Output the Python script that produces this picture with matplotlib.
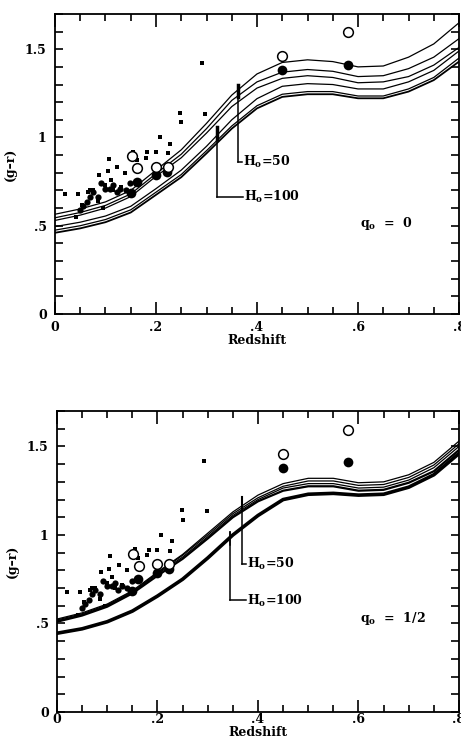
import numpy as np
import matplotlib
matplotlib.use("Agg")
import matplotlib.pyplot as plt
from matplotlib.ticker import MultipleLocator, FixedLocator

plt.rcParams['font.family'] = ['DejaVu Serif']
plt.rcParams['font.weight'] = 'bold'
plt.rcParams['mathtext.fontset'] = 'dejavuserif'

z = [0.0, 0.05, 0.1, 0.15, 0.2, 0.25, 0.3, 0.35, 0.4, 0.45,
     0.5, 0.55, 0.6, 0.65, 0.7, 0.75, 0.8]

# q0 = 0 models (top panel)
top_c1 = [0.565, 0.595, 0.635, 0.70, 0.815, 0.93, 1.08, 1.24, 1.36, 1.425,
          1.44, 1.43, 1.40, 1.405, 1.455, 1.53, 1.65]
top_c2 = [0.545, 0.575, 0.615, 0.68, 0.795, 0.905, 1.05, 1.21, 1.315, 1.37,
          1.385, 1.375, 1.345, 1.35, 1.39, 1.455, 1.56]
top_c3 = [0.53, 0.56, 0.60, 0.665, 0.78, 0.885, 1.025, 1.175, 1.28, 1.335,
          1.35, 1.34, 1.31, 1.315, 1.345, 1.41, 1.51]
top_c4 = [0.495, 0.52, 0.555, 0.61, 0.71, 0.815, 0.95, 1.10, 1.22, 1.29,
          1.305, 1.30, 1.275, 1.275, 1.315, 1.38, 1.49]
top_c5 = [0.475, 0.50, 0.535, 0.59, 0.69, 0.79, 0.925, 1.065, 1.18, 1.245,
          1.26, 1.26, 1.235, 1.235, 1.275, 1.34, 1.45]
top_c6 = [0.46, 0.485, 0.52, 0.575, 0.675, 0.775, 0.91, 1.05, 1.165, 1.23,
          1.245, 1.245, 1.222, 1.222, 1.26, 1.325, 1.43]

# q0 = 1/2 models (bottom panel)
bot_c1 = [0.525, 0.56, 0.61, 0.685, 0.79, 0.89, 1.01, 1.13, 1.225, 1.29,
          1.32, 1.32, 1.295, 1.30, 1.34, 1.41, 1.53]
bot_c2 = [0.52, 0.555, 0.605, 0.68, 0.785, 0.885, 1.0, 1.12, 1.21, 1.275,
          1.305, 1.305, 1.28, 1.285, 1.325, 1.395, 1.515]
bot_c3 = [0.515, 0.55, 0.60, 0.675, 0.78, 0.875, 0.99, 1.11, 1.20, 1.265,
          1.29, 1.29, 1.265, 1.27, 1.31, 1.38, 1.50]
bot_c4 = [0.51, 0.545, 0.595, 0.67, 0.77, 0.865, 0.98, 1.10, 1.19, 1.25,
          1.275, 1.275, 1.25, 1.255, 1.295, 1.36, 1.48]
bot_c5 = [0.445, 0.47, 0.51, 0.57, 0.655, 0.75, 0.87, 1.0, 1.11, 1.20,
          1.23, 1.235, 1.225, 1.23, 1.27, 1.34, 1.46]

# observed galaxies
sq_z = [0.02, 0.045, 0.042, 0.053, 0.065, 0.076, 0.088, 0.096, 0.104, 0.106,
        0.110, 0.123, 0.130, 0.139, 0.155, 0.162, 0.180, 0.183, 0.20, 0.207,
        0.224, 0.228, 0.248, 0.25, 0.292, 0.298, 0.07, 0.085, 0.10, 0.115]
sq_gr = [0.68, 0.68, 0.55, 0.62, 0.69, 0.70, 0.79, 0.60, 0.81, 0.88,
         0.76, 0.83, 0.72, 0.80, 0.92, 0.87, 0.885, 0.915, 0.915, 1.0,
         0.91, 0.965, 1.14, 1.085, 1.42, 1.135, 0.70, 0.64, 0.73, 0.70]

dot_z = [0.05, 0.056, 0.063, 0.069, 0.076, 0.086, 0.092, 0.099, 0.109, 0.115,
         0.122, 0.129, 0.149, 0.14]
dot_gr = [0.59, 0.61, 0.635, 0.665, 0.69, 0.665, 0.74, 0.71, 0.71, 0.73,
          0.69, 0.71, 0.74, 0.70]

fill_z = [0.15, 0.162, 0.20, 0.222, 0.45, 0.58]
fill_gr = [0.683, 0.75, 0.787, 0.806, 1.38, 1.41]

open_z = [0.152, 0.163, 0.20, 0.223, 0.45, 0.58]
open_gr = [0.895, 0.825, 0.835, 0.835, 1.46, 1.595]


def style_axes(ax, xpad, xlabelpad):
    ax.set_xlim(0, 0.8)
    ax.set_ylim(0, 1.7)
    ax.xaxis.set_major_locator(FixedLocator([0, 0.2, 0.4, 0.6, 0.8]))
    ax.xaxis.set_minor_locator(MultipleLocator(0.05))
    ax.yaxis.set_major_locator(FixedLocator([0, 0.5, 1.0, 1.5]))
    ax.yaxis.set_minor_locator(MultipleLocator(0.1))
    ax.set_xticklabels(['0', '.2', '.4', '.6', '.8'])
    ax.set_yticklabels(['0', '.5', '1', '1.5'])
    ax.tick_params(which='both', direction='in', top=True, right=True,
                   width=1.2, labelsize=9)
    ax.tick_params(axis='x', which='major', length=9, pad=xpad)
    ax.tick_params(axis='x', which='minor', length=5)
    ax.tick_params(axis='y', which='both', length=6, pad=6)
    for s in ax.spines.values():
        s.set_linewidth(1.3)
    ax.set_xlabel('Redshift', fontsize=9, fontweight='bold',
                  labelpad=xlabelpad)
    ax.set_ylabel('(g\u2013r)', fontsize=9, fontweight='bold', labelpad=6)


def plot_points(ax):
    ax.plot(sq_z, sq_gr, 's', color='black', ms=3, mew=0)
    ax.plot(dot_z, dot_gr, 'o', color='black', ms=4.5, mew=0)
    ax.plot(fill_z, fill_gr, 'o', color='black', ms=7, mew=0)
    ax.plot(open_z, open_gr, 'o', mfc='white', mec='black', ms=7, mew=1.1)


def label(ax, xv, ytop, ybot, xend, text, lw_bar):
    ax.plot([xv, xv], [ytop, ybot], color='black', lw=1.1)
    ax.plot([xv, xend], [ybot, ybot], color='black', lw=1.1)
    ax.plot([xv, xv], [ytop, ytop - 0.07], color='black', lw=lw_bar)
    ax.text(xend + 0.002, ybot, text, fontsize=9, fontweight='bold',
            va='center', ha='left')


fig = plt.figure(figsize=(4.61, 7.41), dpi=100)

ax1 = fig.add_axes([0.1193, 0.5763, 0.8764, 0.4049])
for c in [top_c1, top_c2, top_c3, top_c4, top_c5]:
    ax1.plot(z, c, color='black', lw=0.9)
ax1.plot(z, top_c6, color='black', lw=1.3)
plot_points(ax1)
label(ax1, 0.3615, 1.30, 0.862, 0.371, r'H$_\mathbf{o}$=50', 2.5)
label(ax1, 0.321, 1.06, 0.664, 0.372, r'H$_\mathbf{o}$=100', 2.5)
ax1.text(0.603, 0.513, r'q$_\mathbf{o}$  =  0', fontsize=9, fontweight='bold',
         va='center', ha='left')
style_axes(ax1, 5, 0)

ax2 = fig.add_axes([0.1236, 0.0391, 0.8720, 0.4062])
for c in [bot_c1, bot_c2, bot_c3]:
    ax2.plot(z, c, color='black', lw=0.9)
ax2.plot(z, bot_c4, color='black', lw=1.6)
ax2.plot(z, bot_c5, color='black', lw=2.6)
plot_points(ax2)
label(ax2, 0.369, 1.214, 0.838, 0.377, r'H$_\mathbf{o}$=50', 1.5)
label(ax2, 0.344, 1.016, 0.63, 0.377, r'H$_\mathbf{o}$=100', 1.1)
ax2.text(0.603, 0.527, r'q$_\mathbf{o}$  =  1/2', fontsize=9, fontweight='bold',
         va='center', ha='left')
style_axes(ax2, 1, 0)

fig.savefig('out.png', dpi=100)
